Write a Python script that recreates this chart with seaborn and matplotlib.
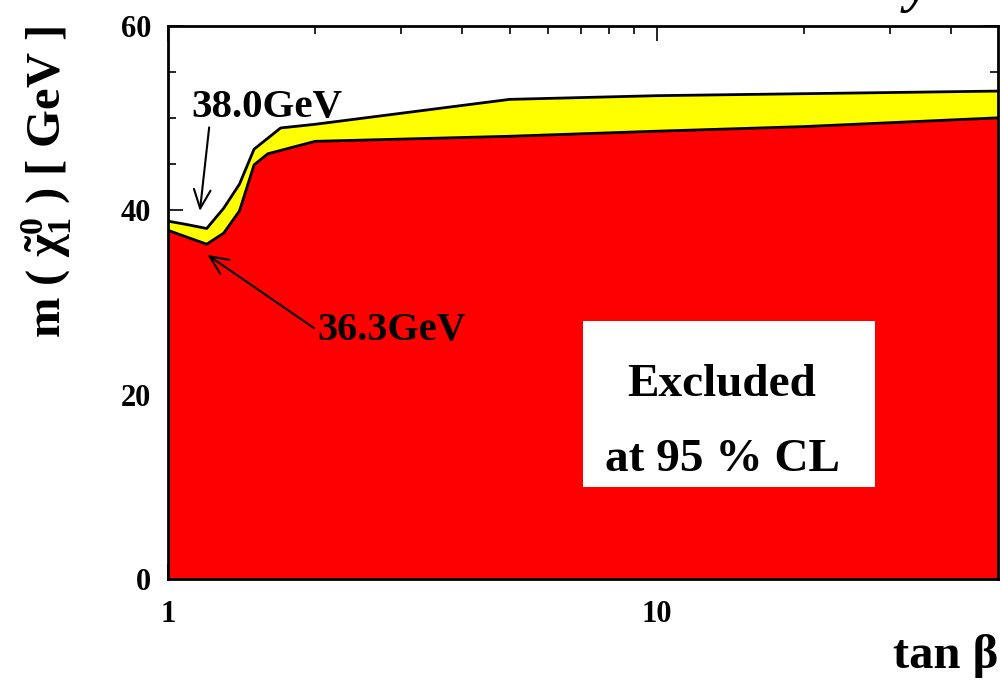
import numpy as np
import pandas as pd
import matplotlib
matplotlib.use("Agg")
import matplotlib.pyplot as plt
import seaborn as sns
from matplotlib.patches import Rectangle
from matplotlib.ticker import FixedLocator, FixedFormatter, NullFormatter, MultipleLocator

# ---------------- data ----------------
tanb_upper = [1.0, 1.1, 1.2, 1.3, 1.4, 1.5, 1.7, 2.0, 5.0, 10.0, 50.0]
m_upper = [38.8, 38.4, 38.0, 40.2, 42.8, 46.6, 48.9, 49.3, 52.0, 52.4, 52.9]

tanb_lower = [1.0, 1.2, 1.3, 1.4, 1.5, 1.6, 2.0, 5.0, 10.0, 20.0, 50.0]
m_lower = [37.8, 36.3, 37.5, 39.9, 44.9, 46.1, 47.45, 48.0, 48.55, 49.05, 50.0]

x_major = [1, 10]
x_major_labels = ["1", "10"]
x_minor = [2, 3, 4, 5, 6, 7, 8, 9, 20, 30, 40]
y_major = [0, 20, 40, 60]
y_major_labels = ["0", "20", "40", "60"]

label_high = "38.0GeV"
label_low = "36.3GeV"
excl_lines = ["Excluded", "at 95 % CL"]

# ---------------- style ----------------
sns.set_theme(style="ticks")
plt.rcParams["font.family"] = ["Liberation Serif", "DejaVu Serif"]
plt.rcParams["font.weight"] = "bold"
plt.rcParams["text.color"] = "black"
plt.rcParams["axes.labelcolor"] = "black"
plt.rcParams["xtick.color"] = "black"
plt.rcParams["ytick.color"] = "black"
plt.rcParams["mathtext.fontset"] = "custom"
plt.rcParams["mathtext.rm"] = "Liberation Serif:bold"
plt.rcParams["mathtext.it"] = "Liberation Serif:bold"
plt.rcParams["mathtext.bf"] = "Liberation Serif:bold"

fig = plt.figure(figsize=(10.03, 6.82), dpi=100)
ax = fig.add_axes([0.1675, 0.151, 0.828, 0.8115])
ax.set_facecolor("white")

# union grid (log-x linear interpolation = straight segments on the plot)
df_up = pd.DataFrame({"tanb": tanb_upper, "m": m_upper})
df_lo = pd.DataFrame({"tanb": tanb_lower, "m": m_lower})
grid = np.array(sorted(set(tanb_upper) | set(tanb_lower)))
up_i = np.interp(np.log10(grid), np.log10(tanb_upper), m_upper)
lo_i = np.interp(np.log10(grid), np.log10(tanb_lower), m_lower)

ax.fill_between(grid, 0, lo_i, color="#ff0000", lw=0, zorder=1)
ax.fill_between(grid, lo_i, up_i, color="#ffff00", lw=0, zorder=1)
sns.lineplot(data=df_up, x="tanb", y="m", color="black", lw=2.0, ax=ax,
             estimator=None, sort=False, zorder=3)
sns.lineplot(data=df_lo, x="tanb", y="m", color="black", lw=2.0, ax=ax,
             estimator=None, sort=False, zorder=3)

ax.set_xscale("log")
ax.set_xlim(1, 50)
ax.set_ylim(0, 60)

ax.xaxis.set_major_locator(FixedLocator(x_major))
ax.xaxis.set_major_formatter(FixedFormatter(x_major_labels))
ax.xaxis.set_minor_locator(FixedLocator(x_minor))
ax.xaxis.set_minor_formatter(NullFormatter())
ax.yaxis.set_major_locator(FixedLocator(y_major))
ax.yaxis.set_major_formatter(FixedFormatter(y_major_labels))
ax.yaxis.set_minor_locator(MultipleLocator(5))

ax.tick_params(which="both", direction="in", top=True, right=True,
               colors="black", labelcolor="black", width=1.2, labelsize=22)
ax.tick_params(which="major", length=11)
ax.tick_params(which="minor", length=5.5)
ax.tick_params(axis="x", which="major", pad=15)
ax.tick_params(axis="y", which="major", pad=12)
for lab in ax.get_xticklabels() + ax.get_yticklabels():
    lab.set_fontweight("bold")

for sp in ax.spines.values():
    sp.set_linewidth(2.0)
    sp.set_color("black")
    sp.set_zorder(5)

ax.set_xlabel("tan β", fontsize=35, fontweight="bold", loc="right",
              color="black")
ax.xaxis.set_label_coords(1.0, -0.1)
ax.set_ylabel(r"m ( $\tilde{\chi}^0_1$ ) [ GeV ]", fontsize=35,
              fontweight="bold", loc="top", color="black")
ax.yaxis.set_label_coords(-0.113, 1.0)

# white box with the exclusion text
ax.add_patch(Rectangle((7.07, 10.0), 28.0 - 7.07, 18.0, facecolor="white",
                       edgecolor="none", zorder=4))
ax.text(13.6, 19.85, excl_lines[0], fontsize=34, fontweight="bold",
        ha="center", va="baseline", zorder=6, color="black")
ax.text(13.6, 11.7, excl_lines[1], fontsize=34, fontweight="bold",
        ha="center", va="baseline", zorder=6, color="black")

# annotations
ax.text(1.115, 50.1, label_high, fontsize=29.5, fontweight="bold",
        ha="left", va="baseline", zorder=6, color="black")
ax.annotate("", xy=(1.162, 39.9), xytext=(1.214, 48.96),
            arrowprops=dict(arrowstyle="->,head_length=0.45,head_width=0.2",
                            lw=1.5, color="black", mutation_scale=30,
                            shrinkA=0, shrinkB=0), zorder=6)
ax.text(2.022, 25.9, label_low, fontsize=29, fontweight="bold",
        ha="left", va="baseline", zorder=6, color="black")
ax.annotate("", xy=(1.204, 35.15), xytext=(1.99, 27.2),
            arrowprops=dict(arrowstyle="->,head_length=0.45,head_width=0.2",
                            lw=1.5, color="black", mutation_scale=30,
                            shrinkA=0, shrinkB=0), zorder=6)

# partially visible title glyph at the top edge (cropped in the reference)
fig.text(918 / 1003, 1 - 1 / 682, "y", fontsize=40, fontweight="bold",
         fontstyle="italic", ha="center", va="baseline", color="black")

fig.savefig("out.png", dpi=100, facecolor="white")
